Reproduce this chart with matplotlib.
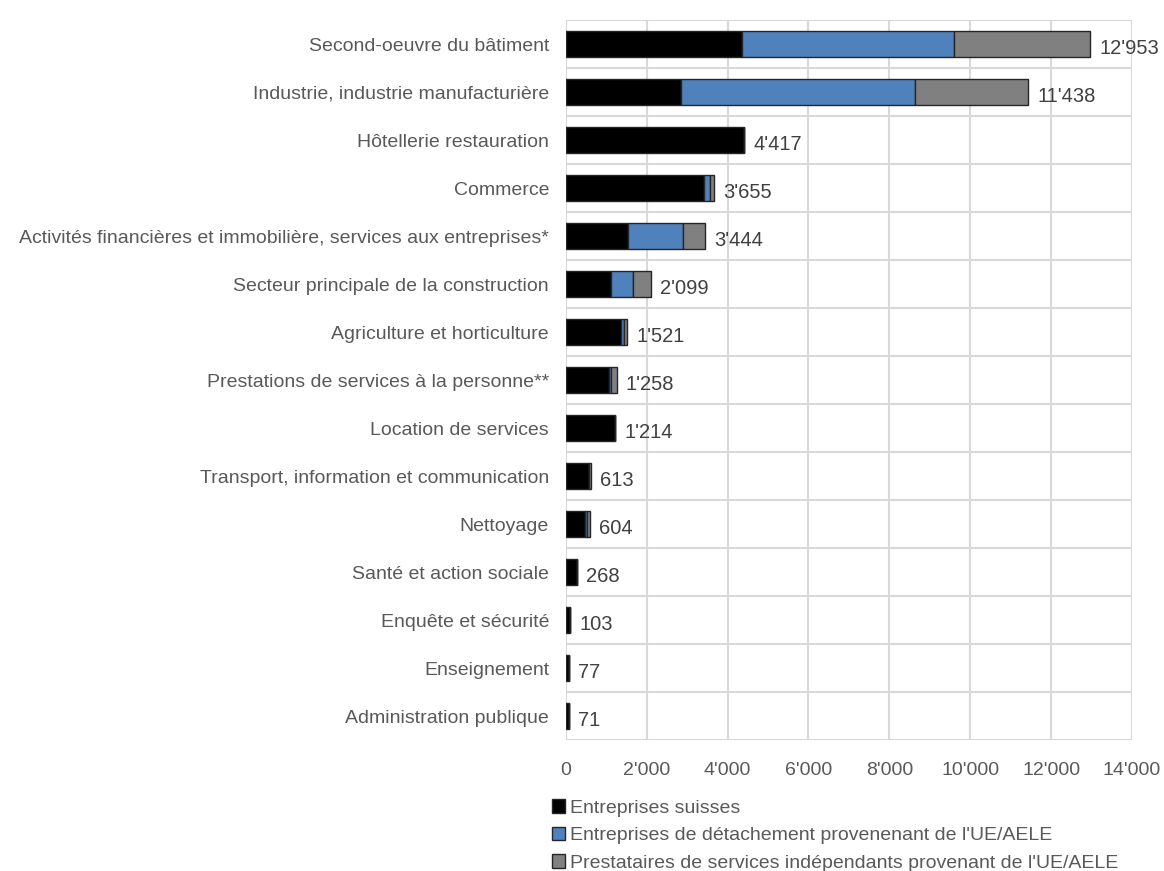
import matplotlib.pyplot as plt
import numpy as np
from matplotlib.ticker import FuncFormatter
from matplotlib import font_manager

categories = [
    "Second-oeuvre du bâtiment",
    "Industrie, industrie manufacturière",
    "Hôtellerie restauration",
    "Commerce",
    "Activités financières et immobilière, services aux entreprises*",
    "Secteur principale de la construction",
    "Agriculture et horticulture",
    "Prestations de services à la personne**",
    "Location de services",
    "Transport, information et communication",
    "Nettoyage",
    "Santé et action sociale",
    "Enquête et sécurité",
    "Enseignement",
    "Administration publique",
]
swiss = [4350, 2840, 4417, 3425, 1540, 1120, 1370, 1060, 1214, 570, 480, 268, 103, 77, 71]
detached = [5260, 5795, 0, 150, 1350, 555, 60, 65, 0, 15, 40, 0, 0, 0, 0]
independent = [3343, 2803, 0, 80, 554, 424, 91, 133, 0, 28, 84, 0, 0, 0, 0]
totals = [12953, 11438, 4417, 3655, 3444, 2099, 1521, 1258, 1214, 613, 604, 268, 103, 77, 71]

series_names = [
    "Entreprises suisses",
    "Entreprises de détachement provenenant de l'UE/AELE",
    "Prestataires de services indépendants provenant de l'UE/AELE",
]
colors = ["#000000", "#4f81bd", "#808080"]

names = {f.name for f in font_manager.fontManager.ttflist}
family = "Liberation Sans Narrow" if "Liberation Sans Narrow" in names else "Liberation Sans"
plt.rcParams["font.family"] = [family, "DejaVu Sans"]
text_col = "#595959"


def fmt(v, pos=None):
    return "{:,}".format(int(v)).replace(",", "'")


fig = plt.figure(figsize=(11.64, 8.71), dpi=100)
ax = fig.add_axes([0.486, 0.1504, 0.4866, 0.8266])

y = np.arange(len(categories))
left = np.zeros(len(categories))
for vals, name, col in zip([swiss, detached, independent], series_names, colors):
    vals = np.array(vals, dtype=float)
    ax.barh(y, vals, left=left, height=0.55, color=col, edgecolor="#262626",
            linewidth=1.0, label=name)
    left += vals

# total labels at the end of each stacked bar
for yi, tot, end in zip(y, totals, left):
    ax.text(end + 230, yi + 0.1, fmt(tot), va="center", ha="left",
            fontsize=14.5, color="#404040")

ax.set_xlim(0, 14000)
ax.set_ylim(len(categories) - 0.5, -0.5)
ax.set_xticks(np.arange(0, 14001, 2000))
ax.xaxis.set_major_formatter(FuncFormatter(fmt))
ax.set_yticks(y)
ax.set_yticklabels(categories)
ax.set_yticks(np.arange(-0.5, len(categories), 1), minor=True)
ax.tick_params(axis="both", which="both", length=0, labelsize=14,
               labelcolor=text_col)
ax.tick_params(axis="x", pad=16)
ax.tick_params(axis="y", pad=12)
ax.xaxis.grid(True, color="#d9d9d9", linewidth=1.5)
ax.yaxis.grid(True, which="minor", color="#d9d9d9", linewidth=1.5)
ax.set_axisbelow(True)
for s in ax.spines.values():
    s.set_visible(False)

leg = fig.legend(loc="upper left", bbox_to_anchor=(0.4656, 0.0935), ncol=1,
                 frameon=False, fontsize=14, handlelength=0.7, handleheight=0.7,
                 handletextpad=0.25, labelspacing=0.5, borderpad=0)
for t in leg.get_texts():
    t.set_color(text_col)

fig.savefig("out.png", dpi=100, facecolor="white")
